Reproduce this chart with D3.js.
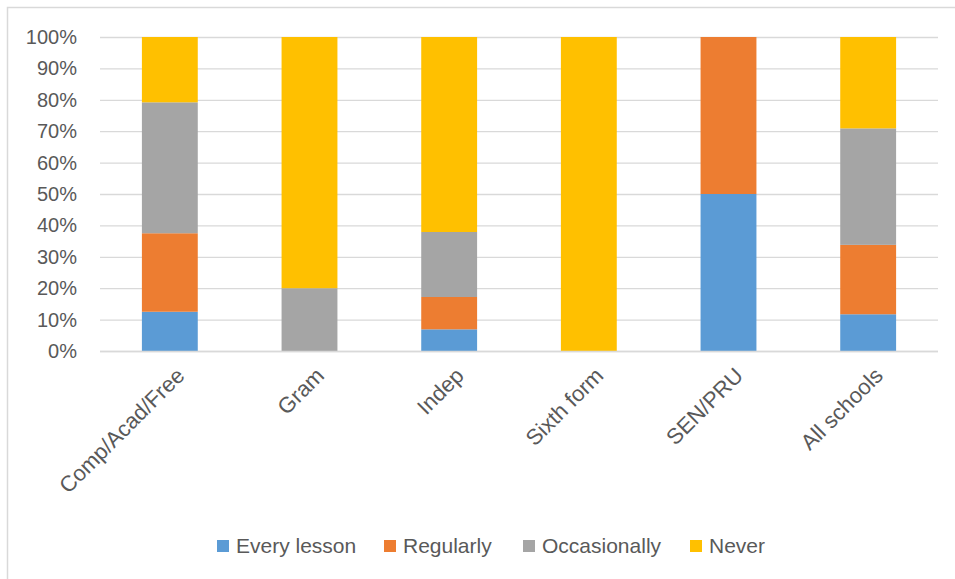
<!DOCTYPE html>
<html><head><meta charset="utf-8">
<script src="https://cdn.jsdelivr.net/npm/d3@7"></script>
<style>body{margin:0;background:#fff}svg{display:block}text{font-family:"Liberation Sans",Arial,sans-serif;fill:#595959}</style>
</head><body><svg id="c" width="955" height="579"></svg>
<script>
const categories = ["Comp/Acad/Free","Gram","Indep","Sixth form","SEN/PRU","All schools"];
const seriesNames = ["Every lesson","Regularly","Occasionally","Never"];
const everyLesson  = [12.5, 0, 6.9, 0, 50, 11.7];
const regularly    = [25.0, 0, 10.3, 0, 50, 22.1];
const occasionally = [41.7, 20, 20.7, 0, 0, 37.1];
const never        = [20.8, 80, 62.1, 100, 0, 29.1];
const yTicks = [0,10,20,30,40,50,60,70,80,90,100];
const colors = ["#5b9bd5","#ed7d31","#a5a5a5","#ffc000"];

const rows = categories.map((c,i)=>({cat:c,"Every lesson":everyLesson[i],"Regularly":regularly[i],"Occasionally":occasionally[i],"Never":never[i]}));
const stack = d3.stack().keys(seriesNames)(rows);

const svg = d3.select("#c");
svg.append("rect").attr("x",7.5).attr("y",7.5).attr("width",1000).attr("height",1000)
  .attr("fill","none").attr("stroke","#d9d9d9").attr("stroke-width",1.5);

const x = d3.scaleBand().domain(categories).range([100,938]).paddingInner(0.6).paddingOuter(0.3);
const y = d3.scaleLinear().domain([0,100]).range([351,37]);

const yAxis = svg.append("g").attr("transform","translate(100,0)")
  .call(d3.axisLeft(y).tickValues(yTicks).tickFormat(d=>d+"%").tickSize(-838).tickPadding(23));
yAxis.select(".domain").remove();
yAxis.selectAll("line").attr("stroke","#d9d9d9").attr("stroke-width",1.3);
yAxis.selectAll("text").attr("font-size",20).style("fill","#595959").attr("font-family","Liberation Sans, Arial, sans-serif");

svg.append("g").selectAll("g").data(stack).join("g").attr("fill",(d,i)=>colors[i])
  .selectAll("rect").data(d=>d).join("rect")
  .attr("x",d=>x(d.data.cat)).attr("width",x.bandwidth())
  .attr("y",d=>y(d[1])).attr("height",d=>y(d[0])-y(d[1]));

const xAxis = svg.append("g").attr("transform","translate(0,351)")
  .call(d3.axisBottom(x).tickSize(0).tickPadding(0));
xAxis.select(".domain").attr("stroke","#d9d9d9").attr("stroke-width",1.3).attr("d","M100,0.5H938");
xAxis.selectAll("text").attr("font-size",22).style("fill","#595959").attr("font-family","Liberation Sans, Arial, sans-serif")
  .attr("text-anchor","end").attr("dy",0).attr("y",0)
  .attr("transform","translate(16,26) rotate(-45)");

const legendX = [217,384,523,690];
const lg = svg.append("g").selectAll("g").data(seriesNames).join("g")
  .attr("transform",(d,i)=>`translate(${legendX[i]},540)`);
lg.append("rect").attr("width",12).attr("height",12).attr("fill",(d,i)=>colors[i]);
lg.append("text").attr("x",19).attr("y",13).attr("font-size",21).text(d=>d);
</script></body></html>
